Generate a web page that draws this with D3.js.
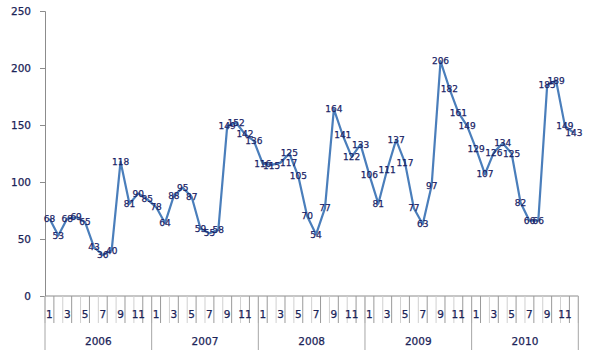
<!DOCTYPE html>
<html>
<head>
<meta charset="utf-8">
<script src="https://cdn.jsdelivr.net/npm/d3@7"></script>
<style>
  html, body { margin: 0; padding: 0; background: #fff; }
  svg { display: block; }
</style>
</head>
<body>
<svg id="chart" width="590" height="358"></svg>
<script>
const years = ["2006", "2007", "2008", "2009", "2010"];
const months = [1, 2, 3, 4, 5, 6, 7, 8, 9, 10, 11, 12];
const values2006 = [68, 53, 68, 69, 65, 43, 36, 40, 118, 81, 90, 85];
const values2007 = [78, 64, 88, 95, 87, 59, 55, 58, 149, 152, 142, 136];
const values2008 = [116, 115, 117, 125, 105, 70, 54, 77, 164, 141, 122, 133];
const values2009 = [106, 81, 111, 137, 117, 77, 63, 97, 206, 182, 161, 149];
const values2010 = [129, 107, 126, 134, 125, 82, 66, 66, 185, 189, 149, 143];
const yTicks = [0, 50, 100, 150, 200, 250];

const seriesByYear = [values2006, values2007, values2008, values2009, values2010];
const data = [];
years.forEach((yr, yi) => {
  months.forEach((m, mi) => {
    data.push({ year: yr, month: m, key: yr + "-" + m, value: seriesByYear[yi][mi] });
  });
});

// small label nudges (layout only), as in the reference
const labelNudge = { "2008-3": [8, 0], "2008-4": [0, -1], "2008-2": [0, 1] };

const svg = d3.select("#chart");
const plotLeft = 45, plotRight = 578.3, plotTop = 11, plotBottom = 296;
const textColor = "#1b2458";
const font = "'DejaVu Sans', Verdana, sans-serif";

const x = d3.scaleBand().domain(data.map(d => d.key)).range([plotLeft, plotRight]).padding(0);
const xYear = d3.scaleBand().domain(years).range([plotLeft, plotRight]).padding(0);
const y = d3.scaleLinear().domain([0, 250]).range([plotBottom, plotTop]);

function heavy(sel, color) {
  sel.attr("fill", color).attr("stroke", color).attr("stroke-width", 0.25);
}

// Y axis
const yAxis = d3.axisLeft(y).tickValues(yTicks).tickSize(5).tickPadding(9);
const gy = svg.append("g").attr("transform", `translate(${plotLeft},0)`).call(yAxis);
gy.select(".domain").attr("stroke", "#8c8c8c");
gy.selectAll(".tick line").attr("stroke", "#8c8c8c");
gy.selectAll("text").style("font-family", font).style("font-size", "10.5px").call(heavy, textColor);

// X axis baseline
svg.append("line").attr("x1", plotLeft).attr("x2", plotRight).attr("y1", plotBottom).attr("y2", plotBottom)
  .attr("stroke", "#8c8c8c");

// Month boundaries
const monthBounds = data.map(d => x(d.key)).concat([plotRight]);
svg.append("g").selectAll("line").data(monthBounds).join("line")
  .attr("x1", d => d).attr("x2", d => d)
  .attr("y1", plotBottom).attr("y2", 323)
  .attr("stroke", (d, i) => i % 2 === 1 ? "#9a9a9a" : "#d0d0d0");

// Year boundaries
const yearBounds = years.map(yr => xYear(yr)).concat([plotRight]);
svg.append("g").selectAll("line").data(yearBounds).join("line")
  .attr("x1", d => d).attr("x2", d => d)
  .attr("y1", plotBottom).attr("y2", 350)
  .attr("stroke", "#a6a6a6");

// Month labels (odd months)
svg.append("g").selectAll("text").data(data.filter(d => d.month % 2 === 1)).join("text")
  .attr("x", d => x(d.key) + x.bandwidth() / 2)
  .attr("y", 318)
  .attr("text-anchor", "middle")
  .style("font-family", font).style("font-size", "10.5px")
  .call(heavy, textColor)
  .text(d => d.month);

// Year labels
svg.append("g").selectAll("text").data(years).join("text")
  .attr("x", d => xYear(d) + xYear.bandwidth() / 2)
  .attr("y", 345)
  .attr("text-anchor", "middle")
  .style("font-family", font).style("font-size", "10.5px")
  .call(heavy, textColor)
  .text(d => d);

// Line
const line = d3.line().x(d => x(d.key) + x.bandwidth() / 2).y(d => y(d.value));
svg.append("path").datum(data).attr("d", line)
  .attr("fill", "none").attr("stroke", "#4a7ebb").attr("stroke-width", 2.2)
  .attr("stroke-linejoin", "round");

// Data labels
svg.append("g").selectAll("text").data(data).join("text")
  .attr("x", d => x(d.key) + x.bandwidth() / 2 + (labelNudge[d.key] ? labelNudge[d.key][0] : 0))
  .attr("y", d => y(d.value) + (labelNudge[d.key] ? labelNudge[d.key][1] : 0))
  .attr("dy", "0.35em")
  .attr("text-anchor", "middle")
  .style("font-family", font).style("font-size", "9px")
  .call(heavy, "#1a1f66")
  .text(d => d.value);
</script>
</body>
</html>
